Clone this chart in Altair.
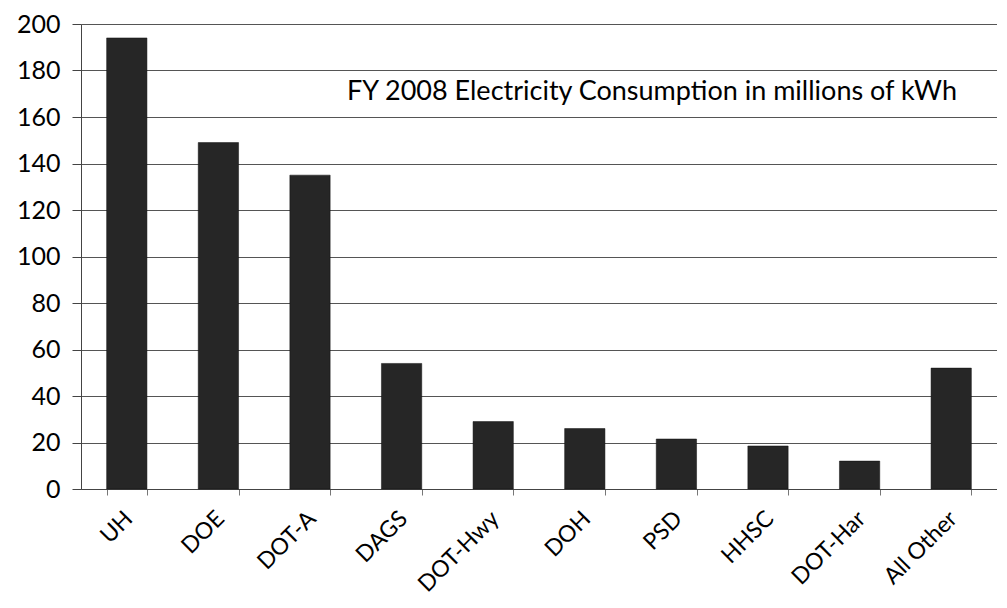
import altair as alt
import pandas as pd

categories = ["UH", "DOE", "DOT-A", "DAGS", "DOT-Hwy", "DOH", "PSD", "HHSC", "DOT-Har", "All Other"]
values = [194, 149, 135, 54, 29, 26, 21.5, 18.5, 12, 52]
y_ticks = list(range(0, 201, 20))
title_text = "FY 2008 Electricity Consumption in millions of kWh"

df = pd.DataFrame({"agency": categories, "kwh": values})

FONT = "Lato"

bars = alt.Chart(df).mark_bar(color="#262626", stroke="#111111", strokeWidth=0.5).encode(
    x=alt.X("agency:N", sort=categories, title=None,
            scale=alt.Scale(paddingInner=0.56, paddingOuter=0.28),
            axis=alt.Axis(labelAngle=-45, labelFont=FONT, labelFontSize=23, labelColor="#000000",
                          labelPadding=12, labelOffset=-6, tickBand="extent", tickSize=6,
                          tickColor="#777777", domain=True, domainColor="#444444", grid=False)),
    y=alt.Y("kwh:Q", title=None,
            scale=alt.Scale(domain=[0, 200], nice=False),
            axis=alt.Axis(values=y_ticks, labelFont=FONT, labelFontSize=25, labelColor="#000000",
                          labelPadding=12, tickSize=9, tickColor="#444444",
                          domain=True, domainColor="#444444",
                          grid=True, gridColor="#555555", gridWidth=1)),
)

title = alt.Chart(pd.DataFrame({"t": [title_text]})).mark_text(
    font=FONT, fontSize=27, color="#000000", align="center", baseline="middle"
).encode(text="t:N", x=alt.value(571), y=alt.value(68))

chart = (bars + title).properties(
    width=916, height=465,
    autosize=alt.AutoSizeParams(type="none"),
    padding={"left": 73, "top": 16, "right": 0, "bottom": 111},
).configure_view(stroke=None).configure(background="white")

chart.save("out.html", embed_options={"renderer": "svg", "actions": False})
